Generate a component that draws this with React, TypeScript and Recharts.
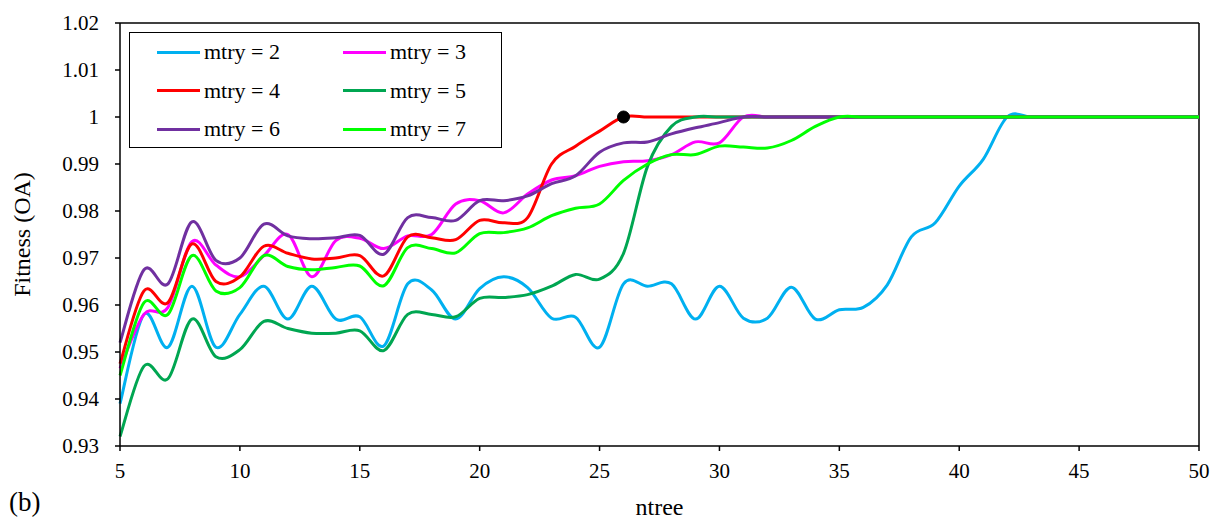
import React from 'react';
import {
  LineChart,
  Line,
  XAxis,
  YAxis,
  Legend,
  ReferenceLine,
  ReferenceDot,
} from 'recharts';

// ntree values tested
const ntree = [
  5, 6, 7, 8, 9, 10, 11, 12, 13, 14, 15, 16, 17, 18, 19, 20, 21, 22, 23, 24, 25, 26, 27,
  28, 29, 30, 31, 32, 33, 34, 35, 36, 37, 38, 39, 40, 41, 42, 43, 44, 45, 46, 47, 48, 49, 50,
];

// fitness (OA) for each mtry, one value per ntree
const mtry2 = [
  0.939, 0.958, 0.951, 0.964, 0.951, 0.958, 0.964, 0.957, 0.964, 0.957, 0.9575, 0.9513,
  0.9645, 0.9632, 0.957, 0.9635, 0.966, 0.9637, 0.9572, 0.9574, 0.951, 0.9645, 0.964,
  0.9645, 0.957, 0.964, 0.9572, 0.9572, 0.9638, 0.957, 0.959, 0.9595, 0.9643, 0.9745,
  0.9775, 0.9853, 0.991, 1, 1, 1, 1, 1, 1, 1, 1, 1,
];
const mtry3 = [
  0.9465, 0.958, 0.9595, 0.9735, 0.9685, 0.966, 0.9705, 0.975, 0.966, 0.9737, 0.9742,
  0.972, 0.9747, 0.975, 0.9815, 0.9822, 0.9796, 0.9836, 0.9866, 0.9875, 0.9895, 0.9905,
  0.9907, 0.992, 0.9947, 0.9945, 1, 1, 1, 1, 1, 1, 1, 1, 1, 1, 1, 1, 1, 1, 1, 1, 1, 1, 1, 1,
];
const mtry4 = [
  0.9475, 0.963, 0.9605, 0.973, 0.965, 0.966, 0.9725, 0.971, 0.9698, 0.97, 0.9705, 0.9662,
  0.9745, 0.9743, 0.9739, 0.978, 0.9775, 0.9786, 0.99, 0.9938, 0.997, 1, 1, 1, 1, 1, 1, 1,
  1, 1, 1, 1, 1, 1, 1, 1, 1, 1, 1, 1, 1, 1, 1, 1, 1, 1,
];
const mtry5 = [
  0.932, 0.947, 0.9443, 0.957, 0.949, 0.9505, 0.9565, 0.955, 0.954, 0.954, 0.9545, 0.9503,
  0.958, 0.958, 0.9575, 0.9614, 0.9616, 0.9622, 0.964, 0.9665, 0.9655, 0.971, 0.9895,
  0.998, 1, 1, 1, 1, 1, 1, 1, 1, 1, 1, 1, 1, 1, 1, 1, 1, 1, 1, 1, 1, 1, 1,
];
const mtry6 = [
  0.952, 0.9675, 0.9645, 0.9777, 0.9695, 0.97, 0.9772, 0.9747, 0.9741, 0.9743, 0.9748,
  0.9708, 0.9786, 0.9786, 0.978, 0.9822, 0.9822, 0.9832, 0.9858, 0.9875, 0.9925, 0.9945,
  0.9947, 0.9964, 0.9977, 0.9988, 1, 1, 1, 1, 1, 1, 1, 1, 1, 1, 1, 1, 1, 1, 1, 1, 1, 1, 1, 1,
];
const mtry7 = [
  0.945, 0.9605, 0.958, 0.9705, 0.963, 0.9637, 0.9705, 0.9682, 0.9675, 0.968, 0.9683,
  0.9641, 0.9722, 0.972, 0.9711, 0.9752, 0.9754, 0.9764, 0.979, 0.9806, 0.9815, 0.9865,
  0.99, 0.992, 0.992, 0.9938, 0.9936, 0.9934, 0.995, 0.998, 1, 1, 1, 1, 1, 1, 1, 1, 1, 1, 1,
  1, 1, 1, 1, 1,
];

const xTicks = [5, 10, 15, 20, 25, 30, 35, 40, 45, 50];
const yTicks = [0.93, 0.94, 0.95, 0.96, 0.97, 0.98, 0.99, 1, 1.01, 1.02];

// best configuration found (mtry = 4)
const bestPoint = { ntree: 26, fitness: 1 };

const series = [
  { key: 'm2', name: 'mtry = 2', values: mtry2, color: '#00B0F0' },
  { key: 'm3', name: 'mtry = 3', values: mtry3, color: '#FF00FF' },
  { key: 'm4', name: 'mtry = 4', values: mtry4, color: '#FF0000' },
  { key: 'm5', name: 'mtry = 5', values: mtry5, color: '#00A651' },
  { key: 'm6', name: 'mtry = 6', values: mtry6, color: '#7030A0' },
  { key: 'm7', name: 'mtry = 7', values: mtry7, color: '#00FF00' },
];

const data = ntree.map((n, i) => {
  const row: Record<string, number> = { ntree: n };
  series.forEach(s => {
    row[s.key] = s.values[i];
  });
  return row;
});

// Excel-like smoothed line (uniform Catmull-Rom as cubic beziers)
const smoothCurve = (context: any) => {
  let xs: number[] = [];
  let ys: number[] = [];
  return {
    areaStart() {},
    areaEnd() {},
    lineStart() {
      xs = [];
      ys = [];
    },
    point(x: number, y: number) {
      xs.push(+x);
      ys.push(+y);
    },
    lineEnd() {
      const n = xs.length;
      if (!n) return;
      context.moveTo(xs[0], ys[0]);
      for (let i = 0; i < n - 1; i++) {
        const a = Math.max(i - 1, 0);
        const d = Math.min(i + 2, n - 1);
        context.bezierCurveTo(
          xs[i] + (xs[i + 1] - xs[a]) / 6,
          ys[i] + (ys[i + 1] - ys[a]) / 6,
          xs[i + 1] - (xs[d] - xs[i]) / 6,
          ys[i + 1] - (ys[d] - ys[i]) / 6,
          xs[i + 1],
          ys[i + 1],
        );
      }
    },
  };
};

const FONT = "'Liberation Serif', 'DejaVu Serif', serif";

const formatY = (v: number) => String(parseFloat(v.toFixed(2)));

const LegendBox = ({ payload }: any) => (
  <div
    style={{
      position: 'relative',
      width: 373,
      height: 116,
      border: '1.5px solid #000',
      boxSizing: 'border-box',
      background: '#fff',
      fontFamily: FONT,
      fontSize: 22,
      color: '#000',
    }}
  >
    {(payload || []).map((entry: any, i: number) => (
      <div
        key={entry.value}
        style={{
          position: 'absolute',
          left: 27 + (i % 2) * 186,
          top: Math.floor(i / 2) * 38.5,
          height: 38,
          display: 'flex',
          alignItems: 'center',
          whiteSpace: 'nowrap',
        }}
      >
        <span style={{ width: 43, height: 3, background: entry.color, marginRight: 4 }} />
        <span>{entry.value}</span>
      </div>
    ))}
  </div>
);

const YTitle = ({ viewBox }: any) => {
  const cy = viewBox.y + viewBox.height / 2;
  return (
    <text
      x={22}
      y={cy}
      transform={`rotate(-90 22 ${cy})`}
      textAnchor="middle"
      dominantBaseline="central"
      style={{ fontFamily: FONT, fontSize: 24 }}
      fill="#000"
    >
      Fitness (OA)
    </text>
  );
};

const XTitle = ({ viewBox }: any) => (
  <g style={{ fontFamily: FONT }}>
    <text
      x={viewBox.x + viewBox.width / 2}
      y={515}
      textAnchor="middle"
      style={{ fontSize: 24 }}
      fill="#000"
    >
      ntree
    </text>
    <text x={9} y={511} style={{ fontSize: 27 }} fill="#000">
      (b)
    </text>
  </g>
);

export default function App() {
  return (
    <div
      style={{
        position: 'absolute',
        left: 0,
        top: 0,
        width: 1213,
        height: 520,
        background: '#fff',
        fontFamily: FONT,
      }}
    >
      <LineChart
        width={1213}
        height={520}
        data={data}
        margin={{ top: 23, right: 14, bottom: 34, left: 0 }}
        style={{ fontFamily: FONT }}
      >
        <XAxis
          dataKey="ntree"
          type="number"
          domain={[5, 50]}
          ticks={xTicks}
          interval={0}
          height={40}
          tickSize={5}
          tickMargin={12}
          axisLine={{ stroke: '#000', strokeWidth: 1.5 }}
          tickLine={{ stroke: '#000', strokeWidth: 1.5 }}
          tick={{ fill: '#000', fontSize: 21, style: { fontFamily: FONT } }}
          label={<XTitle />}
        />
        <YAxis
          type="number"
          domain={[0.93, 1.02]}
          ticks={yTicks}
          interval={0}
          width={120}
          tickSize={5}
          tickMargin={16}
          tickFormatter={formatY}
          axisLine={{ stroke: '#000', strokeWidth: 1.5 }}
          tickLine={{ stroke: '#000', strokeWidth: 1.5 }}
          tick={{ fill: '#000', fontSize: 21, style: { fontFamily: FONT } }}
          label={<YTitle />}
        />
        <ReferenceLine y={1.02} stroke="#000" strokeWidth={1.5} />
        <ReferenceLine x={50} stroke="#000" strokeWidth={1.5} />
        <Legend
          layout="horizontal"
          verticalAlign="middle"
          align="center"
          wrapperStyle={{ left: 129, top: 32, width: 373, height: 116 }}
          content={<LegendBox />}
        />
        {series.map(s => (
          <Line
            key={s.key}
            dataKey={s.key}
            name={s.name}
            stroke={s.color}
            strokeWidth={3}
            type={smoothCurve as any}
            dot={false}
            activeDot={false}
            isAnimationActive={false}
          />
        ))}
        <ReferenceDot
          x={bestPoint.ntree}
          y={bestPoint.fitness}
          r={6}
          fill="#000"
          stroke="#000"
        />
      </LineChart>
    </div>
  );
}
